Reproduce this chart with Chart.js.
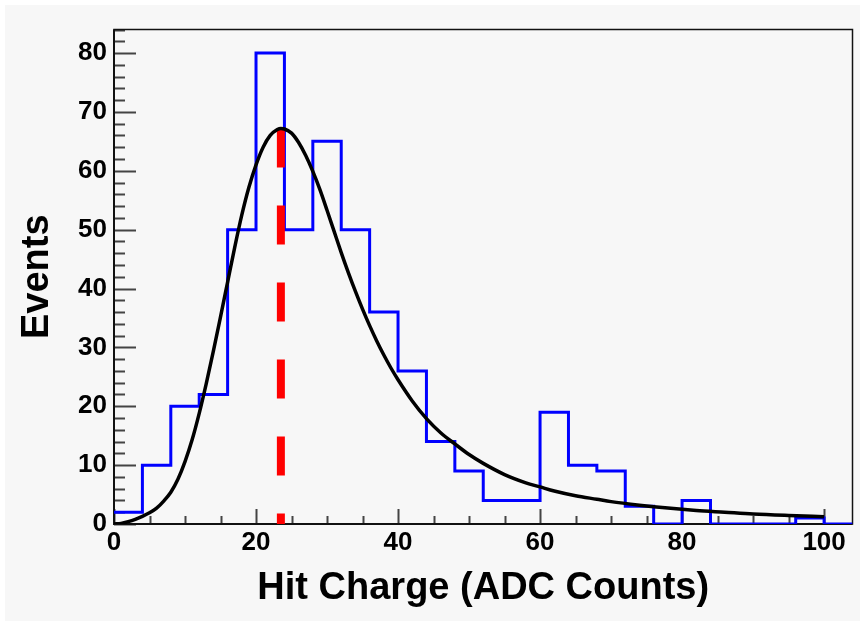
<!DOCTYPE html>
<html>
<head>
<meta charset="utf-8">
<script src="https://cdn.jsdelivr.net/npm/chart.js@4.4.1/dist/chart.umd.min.js"></script>
<style>
  html, body { margin:0; padding:0; background:#fff; }
  canvas { display:block; }
</style>
</head>
<body>
<canvas id="chart" width="860" height="621"></canvas>
<script>
// histogram bins (width 4 ADC counts)
const binEdges = [0,4,8,12,16,20,24,28,32,36,40,44,48,52,56,60,64,68,72,76,80,84,88,92,96,100,104];
const binCounts = [2,10,20,22,50,80,50,65,50,36,26,14,9,4,4,19,10,9,3,0,4,0,0,0,1,0];

// fit curve
const fitX = [0,1,2,3,4,5,6,7,8,9,10,11,12,13,14,15,16,17,18,19,20,21,22,23,23.5,24,25,26,27,28,29,30,31,32,33,34,35,36,37,38,39,40,42,44,46,48,50,52,55,58,60,62,65,68,70,74,78,82,86,90,95,100];
const fitY = [0,0.1,0.4,0.8,1.3,1.9,2.7,3.9,5.4,7.6,10.6,14.3,18.8,23.9,29.4,35.2,41.1,47.0,52.5,57.2,61.0,64.0,66.0,67.0,67.2,67.1,66.4,64.8,62.6,59.9,56.8,53.3,49.7,46.1,42.7,39.5,36.5,33.7,31.1,28.7,26.5,24.5,20.9,17.9,15.5,13.6,11.8,10.3,8.4,7.0,6.3,5.6,4.8,4.2,3.8,3.2,2.7,2.3,2.0,1.7,1.45,1.25];

// most probable value marker
const mpvX = 23.5;
const mpvY = 67.2;

const xTicks = [0,20,40,60,80,100];
const yTicks = [0,10,20,30,40,50,60,70,80];
const xMinorStep = 5;
const yMinorStep = 2;

const FONT = "'Liberation Sans', Arial, Helvetica, sans-serif";

const histData = binCounts.map((c, i) => ({ x: binEdges[i], y: c }));
histData.push({ x: binEdges[binEdges.length - 1], y: binCounts[binCounts.length - 1] });

const fitData = fitX.map((x, i) => ({ x, y: fitY[i] }));
const mpvData = [{ x: mpvX, y: mpvY }, { x: mpvX, y: 0 }];

const bgPlugin = {
  id: "bg",
  beforeDraw(chart){
    const { ctx, width, height } = chart;
    ctx.save();
    ctx.fillStyle = "#ffffff";
    ctx.fillRect(0, 0, width, height);
    ctx.fillStyle = "#f7f7f7";
    ctx.fillRect(5, 5, width - 5, height - 5);
    ctx.restore();
  }
};

// ROOT style frame with inward ticks
const framePlugin = {
  id: "frame",
  beforeDatasetsDraw(chart){
    const { ctx, chartArea: a, scales: { x, y } } = chart;
    ctx.save();
    ctx.strokeStyle = "#444";
    ctx.lineWidth = 2;
    ctx.beginPath();
    for (let v = x.min; v <= x.max; v += xMinorStep){
      const px = Math.round(x.getPixelForValue(v)) + 0.5;
      const len = (v % 20 === 0) ? 15 : 8;
      ctx.moveTo(px, a.bottom);
      ctx.lineTo(px, a.bottom - len);
    }
    for (let v = y.min; v <= y.max; v += yMinorStep){
      const py = Math.round(y.getPixelForValue(v)) + 0.5;
      const len = (v % 10 === 0) ? 22 : 11;
      ctx.moveTo(a.left, py);
      ctx.lineTo(a.left + len, py);
    }
    ctx.stroke();

    ctx.strokeStyle = "#111";
    ctx.lineWidth = 1.5;
    ctx.strokeRect(a.left, a.top, a.right - a.left, a.bottom - a.top);
    ctx.lineWidth = 2;
    ctx.beginPath();
    ctx.moveTo(a.left, a.top);
    ctx.lineTo(a.left, a.bottom);
    ctx.lineTo(a.right, a.bottom);
    ctx.stroke();
    ctx.restore();
  }
};

new Chart(document.getElementById("chart"), {
  type: "scatter",
  data: {
    datasets: [
      {
        label: "fit",
        data: fitData,
        showLine: true,
        borderColor: "#000",
        borderWidth: 3.5,
        pointRadius: 0,
        cubicInterpolationMode: "monotone",
        order: 1
      },
      {
        label: "mpv",
        data: mpvData,
        showLine: true,
        borderColor: "#ff0000",
        borderWidth: 8,
        borderDash: [39, 38],
        borderCapStyle: "butt",
        pointRadius: 0,
        order: 2
      },
      {
        label: "hits",
        data: histData,
        showLine: true,
        stepped: true,
        borderColor: "#0000ff",
        borderWidth: 3,
        pointRadius: 0,
        order: 3
      }
    ]
  },
  options: {
    responsive: false,
    animation: false,
    devicePixelRatio: 1,
    layout: { padding: { top: 29.5, right: 7.5, left: 0, bottom: 0 } },
    plugins: {
      legend: { display: false },
      tooltip: { enabled: false }
    },
    scales: {
      x: {
        type: "linear",
        min: 0,
        max: 104,
        grid: { display: false, drawTicks: false },
        border: { display: false },
        afterBuildTicks: (s) => { s.ticks = xTicks.map(v => ({ value: v })); },
        afterFit: (s) => { s.height = 97; },
        ticks: {
          padding: 3,
          color: "#000",
          font: { family: FONT, size: 26, weight: "bold" },
          callback: (v) => String(v)
        },
        title: {
          display: true,
          text: "Hit Charge (ADC Counts)",
          color: "#000",
          font: { family: FONT, size: 38, weight: "bold" },
          padding: { top: 0, bottom: 10 }
        }
      },
      y: {
        type: "linear",
        min: 0,
        max: 84,
        grid: { display: false, drawTicks: false },
        border: { display: false },
        afterBuildTicks: (s) => { s.ticks = yTicks.map(v => ({ value: v })); },
        afterFit: (s) => { s.width = 114; },
        ticks: {
          padding: 7,
          color: "#000",
          font: { family: FONT, size: 26, weight: "bold" },
          callback: (v) => String(v)
        },
        title: {
          display: true,
          text: "Events",
          color: "#000",
          font: { family: FONT, size: 38, weight: "bold" },
          padding: { top: 15, bottom: 0 }
        }
      }
    }
  },
  plugins: [bgPlugin, framePlugin]
});
</script>
</body>
</html>
